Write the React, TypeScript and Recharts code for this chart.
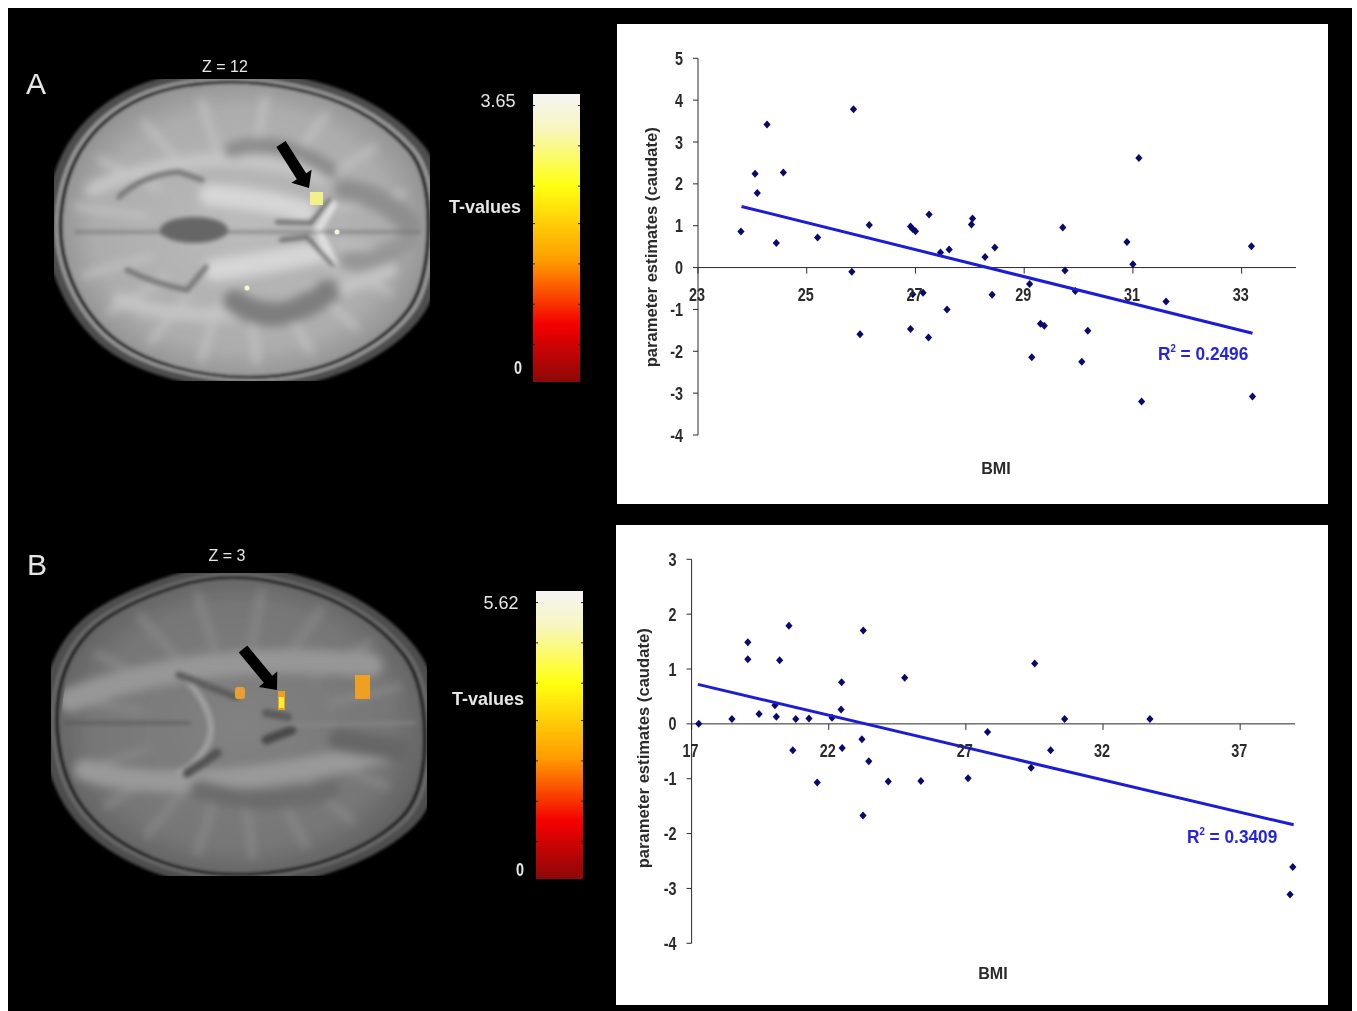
import React from 'react'
import { ScatterChart, Scatter, XAxis, YAxis, ReferenceLine } from 'recharts'

const pointsA = [
  { x: 23.79, y: 0.86 }, { x: 24.05, y: 2.24 }, { x: 24.09, y: 1.78 }, { x: 24.27, y: 3.42 },
  { x: 24.44, y: 0.59 }, { x: 24.57, y: 2.27 }, { x: 25.2, y: 0.72 }, { x: 25.86, y: 3.78 },
  { x: 25.83, y: -0.1 }, { x: 25.98, y: -1.59 }, { x: 26.15, y: 1.02 }, { x: 26.91, y: 0.98 },
  { x: 26.95, y: 0.92 }, { x: 27.0, y: 0.87 }, { x: 27.25, y: 1.27 }, { x: 27.46, y: 0.36 },
  { x: 27.62, y: 0.43 }, { x: 28.03, y: 1.03 }, { x: 28.05, y: 1.17 }, { x: 28.28, y: 0.25 },
  { x: 28.46, y: 0.48 }, { x: 28.41, y: -0.65 }, { x: 27.14, y: -0.6 }, { x: 26.95, y: -0.64 },
  { x: 27.58, y: -1.0 }, { x: 26.91, y: -1.47 }, { x: 27.24, y: -1.67 }, { x: 29.1, y: -0.39 },
  { x: 29.14, y: -2.14 }, { x: 29.3, y: -1.34 }, { x: 29.37, y: -1.39 }, { x: 29.71, y: 0.96 },
  { x: 29.75, y: -0.07 }, { x: 29.94, y: -0.56 }, { x: 30.06, y: -2.25 }, { x: 30.17, y: -1.51 },
  { x: 30.89, y: 0.61 }, { x: 31.0, y: 0.08 }, { x: 31.11, y: 2.62 }, { x: 31.16, y: -3.2 },
  { x: 31.61, y: -0.81 }, { x: 33.18, y: 0.51 }, { x: 33.2, y: -3.08 },
]
const trendA = [{ x: 23.8, y: 1.46 }, { x: 33.2, y: -1.57 }]
const xTicksA = [23, 25, 27, 29, 31, 33]
const yTicksA = [-4, -3, -2, -1, 0, 1, 2, 3, 4, 5]

const pointsB = [
  { x: 17.26, y: 0 }, { x: 18.47, y: 0.09 }, { x: 19.05, y: 1.49 }, { x: 19.05, y: 1.18 },
  { x: 19.46, y: 0.18 }, { x: 20.04, y: 0.34 }, { x: 20.09, y: 0.13 }, { x: 20.21, y: 1.16 },
  { x: 20.55, y: 1.79 }, { x: 20.69, y: -0.48 }, { x: 20.8, y: 0.09 }, { x: 21.28, y: 0.1 },
  { x: 21.58, y: -1.07 }, { x: 22.12, y: 0.11 }, { x: 22.45, y: 0.26 }, { x: 22.47, y: 0.76 },
  { x: 22.49, y: -0.44 }, { x: 23.21, y: -0.28 }, { x: 23.26, y: 1.7 }, { x: 23.25, y: -1.67 },
  { x: 23.46, y: -0.68 }, { x: 24.17, y: -1.05 }, { x: 24.77, y: 0.84 }, { x: 25.36, y: -1.04 },
  { x: 27.08, y: -0.99 }, { x: 27.79, y: -0.15 }, { x: 29.38, y: -0.8 }, { x: 29.51, y: 1.1 },
  { x: 30.09, y: -0.48 }, { x: 30.6, y: 0.09 }, { x: 33.71, y: 0.09 }, { x: 38.92, y: -2.61 },
  { x: 38.82, y: -3.11 },
]
const trendB = [{ x: 17.23, y: 0.72 }, { x: 38.95, y: -1.84 }]
const xTicksB = [17, 22, 27, 32, 37]
const yTicksB = [-4, -3, -2, -1, 0, 1, 2, 3]

const FONT = "'Liberation Sans',Arial,sans-serif"
const INK = '#2a2a2a'

// the figure's type is condensed, so glyphs get squeezed horizontally
function Narrow({ x, y, size = 18, squeeze = 0.8, anchor = 'middle', fill = INK, weight = 700, children }: any) {
  return (
    <text
      transform={`translate(${x} ${y}) scale(${squeeze} 1)`}
      textAnchor={anchor}
      dominantBaseline="central"
      fontSize={size}
      fontWeight={weight}
      fill={fill}
      fontFamily={FONT}
    >
      {children}
    </text>
  )
}

const Diamond = ({ cx, cy }: any) => (
  <path d={`M${cx} ${cy - 4}L${cx + 3.6} ${cy}L${cx} ${cy + 4}L${cx - 3.6} ${cy}Z`} fill="#08086e" />
)

interface PanelProps {
  left: number
  top: number
  width: number
  height: number
  plot: { left: number; right: number; top: number; bottom: number }
  xDomain: number[]
  yDomain: number[]
  xTicks: number[]
  yTicks: number[]
  points: { x: number; y: number }[]
  trend: { x: number; y: number }[]
  yLabelX: number
  bmiY: number
  bmiX: number
  r2: string
  r2Pos: { x: number; y: number }
}

function ScatterPanel(p: PanelProps) {
  const plotH = p.height - p.plot.top - p.plot.bottom
  const zeroY = p.plot.top + (plotH * p.yDomain[1]) / (p.yDomain[1] - p.yDomain[0])
  const zeroTick = ({ x, payload }: any) => (
    <g>
      <line x1={x} x2={x} y1={zeroY} y2={zeroY + 6} stroke={INK} />
      <Narrow x={x - 1} y={zeroY + 27}>{payload.value}</Narrow>
    </g>
  )
  const yTick = ({ x, y, payload }: any) => (
    <Narrow x={x - 1} y={y} anchor="end">{payload.value}</Narrow>
  )
  return (
    <div style={{ position: 'absolute', left: p.left, top: p.top, width: p.width, height: p.height, background: '#fff' }}>
      <ScatterChart
        width={p.width}
        height={p.height}
        margin={{ left: p.plot.left - 40, right: p.plot.right, top: p.plot.top, bottom: p.plot.bottom - 30 }}
      >
        <XAxis
          type="number"
          dataKey="x"
          domain={p.xDomain}
          ticks={p.xTicks}
          interval={0}
          height={30}
          axisLine={false}
          tickLine={false}
          tick={zeroTick}
          label={{
            content: () => <Narrow x={p.bmiX} y={p.bmiY} size={17} squeeze={0.95}>BMI</Narrow>,
          }}
        />
        <YAxis
          type="number"
          dataKey="y"
          domain={p.yDomain}
          ticks={p.yTicks}
          interval={0}
          width={40}
          stroke={INK}
          tickSize={5}
          tickMargin={9}
          tick={yTick}
          label={{
            content: () => (
              <text
                transform={`translate(${p.yLabelX} ${p.plot.top + 189}) rotate(-90)`}
                textAnchor="middle"
                dominantBaseline="central"
                fontSize={17}
                fontWeight={700}
                fill={INK}
                fontFamily={FONT}
                textLength={240}
                lengthAdjust="spacingAndGlyphs"
              >
                parameter estimates (caudate)
              </text>
            ),
          }}
        />
        <ReferenceLine y={0} stroke={INK} />
        <Scatter data={p.points} shape={Diamond} isAnimationActive={false} />
        <Scatter data={p.trend} line={{ stroke: '#1c1cd6', strokeWidth: 3 }} shape={() => null} isAnimationActive={false} />
      </ScatterChart>
      <svg width={p.width} height={p.height} style={{ position: 'absolute', left: 0, top: 0, pointerEvents: 'none' }}>
        <Narrow x={p.r2Pos.x} y={p.r2Pos.y} anchor="start" fill="#2424dc" size={18} squeeze={0.96}>
          R<tspan fontSize={10} dy={-6}>2</tspan><tspan dy={6}> = {p.r2}</tspan>
        </Narrow>
      </svg>
    </div>
  )
}

function ColorBar({ x, y, w, h, id }: { x: number; y: number; w: number; h: number; id: string }) {
  const marks = [0.04, 0.18, 0.32, 0.45, 0.59, 0.73, 0.87]
  return (
    <g>
      <rect x={x} y={y} width={w} height={h} fill={`url(#${id})`} />
      {marks.map((m) => (
        <g key={m}>
          <line x1={x} x2={x + 2} y1={y + h * m} y2={y + h * m} stroke="#222" />
          <line x1={x + w - 2} x2={x + w} y1={y + h * m} y2={y + h * m} stroke="#222" />
        </g>
      ))}
    </g>
  )
}

// closed curve through the midpoints of a rough outline
const smooth = (pts: number[][]) => {
  const mid = (a: number[], b: number[]) => [(a[0] + b[0]) / 2, (a[1] + b[1]) / 2]
  const start = mid(pts[pts.length - 1], pts[0])
  let d = `M${start[0]} ${start[1]}`
  pts.forEach((pt, i) => {
    const m = mid(pt, pts[(i + 1) % pts.length])
    d += `Q${pt[0]} ${pt[1]} ${m[0]} ${m[1]}`
  })
  return d + 'Z'
}

const skullA = smooth([[130, 82], [230, 66], [330, 82], [400, 118], [445, 170], [442, 290], [400, 345], [320, 385], [220, 392], [120, 365], [65, 310], [40, 230], [62, 140]])
const skullB = smooth([[125, 590], [220, 560], [320, 578], [395, 620], [440, 680], [440, 800], [390, 850], [300, 885], [190, 888], [100, 850], [50, 790], [38, 700], [65, 630]])

// [path, colour, width]
const softA: [string, string, number][] = [
  ['M92 190Q200 140 320 175', '#c6c6c6', 14],
  ['M120 300Q230 340 390 270', '#c4c4c4', 14],
  ['M232 150Q280 135 330 170', '#8c8c8c', 16],
  ['M235 302Q275 330 328 292', '#7e7e7e', 24],
  ['M210 195Q270 200 305 212', '#d6d6d6', 22],
  ['M215 270Q270 262 320 252', '#d6d6d6', 22],
  ['M345 190Q385 195 410 225', '#8e8e8e', 22],
  ['M350 262Q385 260 410 240', '#969696', 20],
]
const fineA: [string, string, number][] = [
  ['M119 197Q142 175 179 172L202 180', '#747474', 5],
  ['M127 270Q153 283 187 290L206 267', '#747474', 5],
  ['M333 205L318 230L333 263', '#dedede', 8],
  ['M277 222L311 223L330 200', '#666', 4],
  ['M281 240L307 237L333 265', '#666', 4],
  ['M75 232L165 232', '#6c6c6c', 2],
  ['M225 232L420 232', '#6c6c6c', 2],
]
const softB: [string, string, number][] = [
  ['M70 700Q200 650 370 665', '#979797', 24],
  ['M85 770Q190 800 390 750', '#9a9a9a', 22],
  ['M200 790Q270 810 330 790', '#6c6c6c', 20],
  ['M340 740L400 750', '#666', 24],
]
const fineB: [string, string, number][] = [
  ['M187 680Q222 720 206 747Q195 765 179 773', '#a0a0a0', 6],
  ['M179 675L236 697', '#5c5c5c', 7],
  ['M187 773L217 753', '#525252', 9],
  ['M266 740L292 730', '#4a4a4a', 9],
  ['M266 713L288 717', '#5c5c5c', 8],
  ['M65 723L190 723', '#505050', 2],
  ['M290 725L415 723', '#8c8c8c', 2],
]
const spokeAngles = [10, 28, 47, 66, 85, 104, 123, 142, 160, 190, 212, 234, 256, 278, 300, 322, 344]

interface BrainProps {
  skull: string
  soft: [string, string, number][]
  fine: [string, string, number][]
  cx: number
  cy: number
  tone: string
  rim: string
  id: string
}

function Brain({ skull, soft, fine, cx, cy, tone, rim, id }: BrainProps) {
  const inset = (s: number) => `translate(${cx} ${cy}) scale(${s}) translate(${-cx} ${-cy})`
  return (
    <g clipPath={`url(#clip${id})`}>
      <g filter="url(#b2)">
        <path d={skull} fill="#4e4e4e" />
        <path d={skull} transform={inset(0.955)} fill={rim} />
        <path d={skull} transform={inset(0.935)} fill="#1c1c1c" />
        <path d={skull} transform={inset(0.915)} fill={`url(#tone${id})`} />
      </g>
      <g clipPath={`url(#inner${id})`}>
        <g filter="url(#b5)">
          {spokeAngles.map((a) => (
            <line
              key={a}
              x1={cx + 95 * Math.cos((a * Math.PI) / 180)}
              y1={cy + 75 * Math.sin((a * Math.PI) / 180)}
              x2={cx + 170 * Math.cos((a * Math.PI) / 180)}
              y2={cy + 135 * Math.sin((a * Math.PI) / 180)}
              stroke={tone}
              strokeWidth={6}
            />
          ))}
          {soft.map(([d, c, w], i) => (
            <path key={i} d={d} stroke={c} strokeWidth={w} fill="none" strokeLinecap="round" />
          ))}
        </g>
        <g filter="url(#b25)">
          {fine.map(([d, c, w], i) => (
            <path key={i} d={d} stroke={c} strokeWidth={w} fill="none" strokeLinecap="round" />
          ))}
        </g>
      </g>
    </g>
  )
}

const arrow = (x1: number, y1: number, x2: number, y2: number) => {
  const a = Math.atan2(y2 - y1, x2 - x1)
  const ux = Math.cos(a)
  const uy = Math.sin(a)
  const pt = (along: number, side: number) => `${x2 + ux * along - uy * side} ${y2 + uy * along + ux * side}`
  const len = Math.hypot(x2 - x1, y2 - y1)
  return `M${pt(-len, -5.5)}L${pt(-14, -5.5)}L${pt(-14, -12)}L${pt(0, 0)}L${pt(-14, 12)}L${pt(-14, 5.5)}L${pt(-len, 5.5)}Z`
}

const WHITE = '#e6e6e6'

export default function App() {
  return (
    <div style={{ position: 'absolute', left: 0, top: 0, width: 1357, height: 1011, background: '#fff', overflow: 'hidden', filter: 'blur(0.45px)' }}>
      <div style={{ position: 'absolute', left: 8, top: 8, width: 1344, height: 1003, background: '#000' }} />
      <svg width={610} height={1011} style={{ position: 'absolute', left: 0, top: 0 }}>
        <defs>
          <filter id="b2"><feGaussianBlur stdDeviation="1.4" /></filter>
          <filter id="b25" x="-10%" y="-10%" width="120%" height="120%"><feGaussianBlur stdDeviation="1.9" /></filter>
          <filter id="b5" x="-20%" y="-20%" width="140%" height="140%"><feGaussianBlur stdDeviation="5" /></filter>
          <clipPath id="clipA"><rect x={54} y={79} width={376} height={302} /></clipPath>
          <clipPath id="clipB"><rect x={51} y={573} width={376} height={303} /></clipPath>
          <clipPath id="innerA"><path d={skullA} transform="translate(242 230) scale(0.9) translate(-242 -230)" /></clipPath>
          <clipPath id="innerB"><path d={skullB} transform="translate(238 724) scale(0.9) translate(-238 -724)" /></clipPath>
          <radialGradient id="toneA" cx="50%" cy="50%" r="55%">
            <stop offset="0%" stopColor="#bcbcbc" />
            <stop offset="75%" stopColor="#acacac" />
            <stop offset="100%" stopColor="#8c8c8c" />
          </radialGradient>
          <radialGradient id="toneB" cx="50%" cy="50%" r="55%">
            <stop offset="0%" stopColor="#828282" />
            <stop offset="75%" stopColor="#767676" />
            <stop offset="100%" stopColor="#5e5e5e" />
          </radialGradient>
          {['barA', 'barB'].map((id) => (
            <linearGradient key={id} id={id} x1="0" y1="0" x2="0" y2="1">
              <stop offset="0%" stopColor="#f4f4f4" />
              <stop offset="12%" stopColor="#f8f6c0" />
              <stop offset="32%" stopColor="#ffff10" />
              <stop offset="58%" stopColor="#ff9c00" />
              <stop offset="80%" stopColor="#f40000" />
              <stop offset="100%" stopColor="#8c0808" />
            </linearGradient>
          ))}
        </defs>

        <Narrow x={36} y={83} size={30} squeeze={1} fill={WHITE} weight={400}>A</Narrow>
        <Narrow x={225} y={66} size={16} squeeze={1} fill={WHITE} weight={400}>Z = 12</Narrow>
        <Brain skull={skullA} soft={softA} fine={fineA} cx={242} cy={230} tone="#c2c2c2" rim="#9a9a9a" id="A" />
        <ellipse cx={194} cy={230} rx={34} ry={13} fill="#666" filter="url(#b25)" />
        <path d={arrow(281, 144, 309, 188)} fill="#000" />
        <rect x={310} y={192} width={13} height={13} fill="#f2f088" />
        <circle cx={337} cy={232} r={2.5} fill="#f4f4e0" />
        <circle cx={247} cy={288} r={2.5} fill="#fbfbc8" />
        <ColorBar x={533} y={94} w={47} h={288} id="barA" />
        <Narrow x={498} y={101} size={18} squeeze={1} fill={WHITE} weight={400}>3.65</Narrow>
        <Narrow x={485} y={207} size={18} squeeze={1} fill={WHITE}>T-values</Narrow>
        <Narrow x={518} y={367} size={18} fill={WHITE}>0</Narrow>

        <Narrow x={37} y={564} size={30} squeeze={1} fill={WHITE} weight={400}>B</Narrow>
        <Narrow x={227} y={555} size={16} squeeze={1} fill={WHITE} weight={400}>Z = 3</Narrow>
        <Brain skull={skullB} soft={softB} fine={fineB} cx={238} cy={724} tone="#8a8a8a" rim="#6a6a6a" id="B" />
        <path d={arrow(243, 649, 277, 690)} fill="#000" />
        <rect x={355} y={675} width={15} height={24} fill="#f0a020" />
        <rect x={235} y={687} width={10} height={12} rx={3} fill="#e8a030" />
        <rect x={278} y={691} width={7} height={19} fill="#f0a020" />
        <rect x={279} y={697} width={5} height={11} fill="#ffee30" />
        <ColorBar x={536} y={591} w={47} h={288} id="barB" />
        <Narrow x={501} y={603} size={18} squeeze={1} fill={WHITE} weight={400}>5.62</Narrow>
        <Narrow x={488} y={699} size={18} squeeze={1} fill={WHITE}>T-values</Narrow>
        <Narrow x={520} y={869} size={18} fill={WHITE}>0</Narrow>
      </svg>

      <ScatterPanel
        left={617}
        top={24}
        width={711}
        height={480}
        plot={{ left: 81, right: 32, top: 34.3, bottom: 69 }}
        xDomain={[23, 34]}
        yDomain={[-4, 5]}
        xTicks={xTicksA}
        yTicks={yTicksA}
        points={pointsA}
        trend={trendA}
        yLabelX={34}
        bmiX={379}
        bmiY={444}
        r2="0.2496"
        r2Pos={{ x: 541, y: 330 }}
      />
      <ScatterPanel
        left={616}
        top={525}
        width={712}
        height={480}
        plot={{ left: 75.6, right: 33, top: 34.3, bottom: 61.7 }}
        xDomain={[17, 39]}
        yDomain={[-4, 3]}
        xTicks={xTicksB}
        yTicks={yTicksB}
        points={pointsB}
        trend={trendB}
        yLabelX={27}
        bmiX={377}
        bmiY={448}
        r2="0.3409"
        r2Pos={{ x: 571, y: 312 }}
      />
    </div>
  )
}
